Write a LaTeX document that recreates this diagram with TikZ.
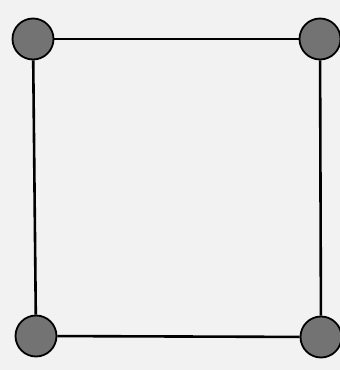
\documentclass[tikz,border=0pt]{standalone}
\begin{document}
\begin{tikzpicture}[x=1pt,y=1pt,
  vertex/.style={circle,draw=black,line width=1.8pt,fill=black!55,minimum size=41pt,inner sep=0pt},
  edge/.style={line width=2.6pt,black}]
\fill[black!5] (0,0) rectangle (340,370);
\useasboundingbox (0,0) rectangle (340,370);
\node[vertex] (tl) at (33,331) {};
\node[vertex] (tr) at (320,331) {};
\node[vertex] (bl) at (36,34) {};
\node[vertex] (br) at (321,33) {};
\draw[edge] (tl) -- (tr);
\draw[edge] (tr) -- (br);
\draw[edge] (br) -- (bl);
\draw[edge] (bl) -- (tl);
\end{tikzpicture}
\end{document}
